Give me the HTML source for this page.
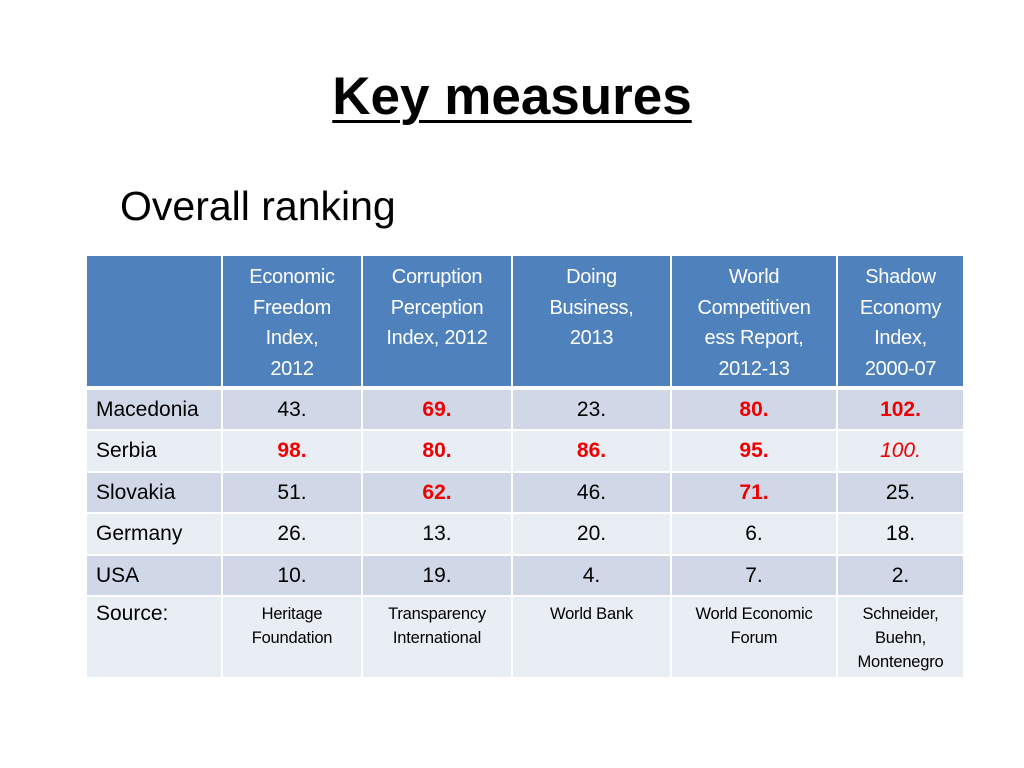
<!DOCTYPE html>
<html><head><meta charset="utf-8"><style>
body{margin:0;width:1024px;height:768px;background:#fff;font-family:"Liberation Sans",sans-serif;position:relative;overflow:hidden}
.t{position:absolute;left:0;width:1024px;top:66px;text-align:center;font-size:53px;font-weight:bold;}
.t span{text-decoration:underline;text-decoration-thickness:3px;text-underline-offset:6px}
.s{position:absolute;left:120px;top:183px;font-size:41px}
table{position:absolute;left:85px;top:254px;border-collapse:collapse;table-layout:fixed}
td{border:2px solid #fff;padding:0;text-align:center;font-size:21px;color:#000;vertical-align:middle;box-sizing:border-box}
tr.h td{background:#4F81BD;color:#fff;height:133px;border-bottom:4px solid #fff;vertical-align:top;padding-top:6px;line-height:30.5px;font-size:20px;letter-spacing:-0.3px;white-space:nowrap}
tr.a td{background:#D0D8E8}
tr.b td{background:#E9EDF4}
td.l{text-align:left;padding-left:9px}
.r{color:#e00;font-weight:bold}
.ri{color:#e00;font-style:italic}
tr.src td{height:82px;vertical-align:top;font-size:16.5px;line-height:24px;padding-top:5px;letter-spacing:-0.2px}
tr.src td.l{font-size:21px;padding-top:5px;letter-spacing:0}
</style></head><body>
<div class="t"><span>Key measures</span></div>
<div class="s">Overall ranking</div>
<table>
<colgroup><col style="width:136px"><col style="width:140px"><col style="width:150px"><col style="width:159px"><col style="width:166px"><col style="width:127px"></colgroup>
<tr class="h"><td></td><td>Economic<br>Freedom<br>Index,<br>2012</td><td>Corruption<br>Perception<br>Index, 2012</td><td>Doing<br>Business,<br>2013</td><td>World<br>Competitiven<br>ess Report,<br>2012-13</td><td>Shadow<br>Economy<br>Index,<br>2000-07</td></tr>
<tr class="a" style="height:42px"><td class="l">Macedonia</td><td>43.</td><td class="r">69.</td><td>23.</td><td class="r">80.</td><td class="r">102.</td></tr>
<tr class="b" style="height:42px"><td class="l">Serbia</td><td class="r">98.</td><td class="r">80.</td><td class="r">86.</td><td class="r">95.</td><td class="ri">100.</td></tr>
<tr class="a" style="height:41px"><td class="l">Slovakia</td><td>51.</td><td class="r">62.</td><td>46.</td><td class="r">71.</td><td>25.</td></tr>
<tr class="b" style="height:42px"><td class="l">Germany</td><td>26.</td><td>13.</td><td>20.</td><td>6.</td><td>18.</td></tr>
<tr class="a" style="height:41px"><td class="l">USA</td><td>10.</td><td>19.</td><td>4.</td><td>7.</td><td>2.</td></tr>
<tr class="b src"><td class="l">Source:</td><td>Heritage<br>Foundation</td><td>Transparency<br>International</td><td>World Bank</td><td>World Economic<br>Forum</td><td>Schneider,<br>Buehn,<br>Montenegro</td></tr>
</table>
</body></html>
